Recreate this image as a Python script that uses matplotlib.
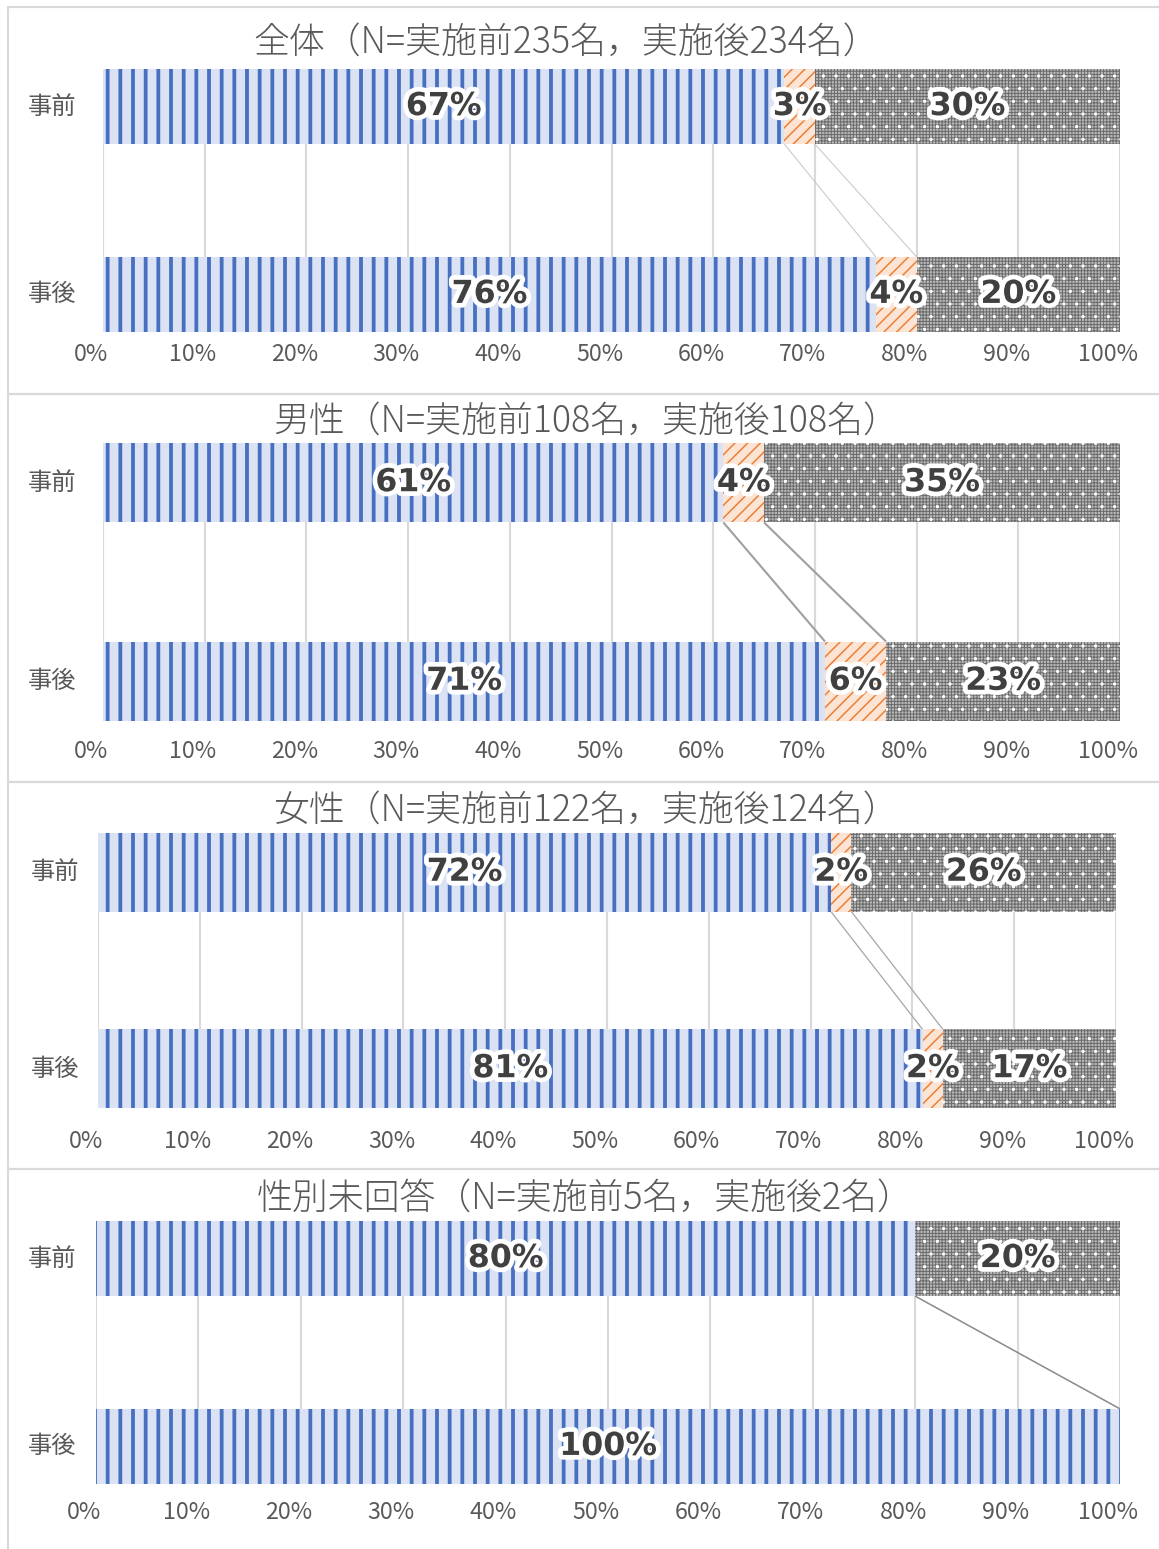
import matplotlib
matplotlib.use("Agg")
import matplotlib.pyplot as plt
import matplotlib.patheffects as pe
from matplotlib.patches import Rectangle
from matplotlib.transforms import ScaledTranslation, blended_transform_factory
import numpy as np

plt.rcParams["font.family"] = ["Noto Sans CJK JP", "DejaVu Sans"]
plt.rcParams["hatch.linewidth"] = 1.4

# ---- data -------------------------------------------------------------
titles = [
    "全体（N=実施前235名，実施後234名）",
    "男性（N=実施前108名，実施後108名）",
    "女性（N=実施前122名，実施後124名）",
    "性別未回答（N=実施前5名，実施後2名）",
]
periods = ["事前", "事後"]
# shares (%) per group: [事前, 事後]
share_blue = [[67, 76], [61, 71], [72, 81], [80, 100]]
share_orange = [[3, 4], [4, 6], [2, 2], [0, 0]]
share_gray = [[30, 20], [35, 23], [26, 17], [20, 0]]
tick_values = list(range(0, 101, 10))
tick_labels = [f"{v}%" for v in tick_values]

# ---- layout (pixels) --------------------------------------------------
W, H, DPI = 1159, 1549, 152
axes_px = [  # left, right, top, bottom
    (103, 1120, 69, 332),
    (103, 1120, 443, 721),
    (98, 1116, 833, 1108),
    (96, 1120, 1221, 1484),
]
tick_pad = [5.0, 9.0, 10.4, 8.0]
title_px = [(566, 42), (586, 421), (586, 810), (585, 1198)]
ylabel_x = [52, 52, 55, 52]
panel_px = [(7, 394), (394, 782), (782, 1169), (1169, 1560)]
connector_style = [
    ("#c9c9c9", 0.5),
    ("#a0a0a0", 1.0),
    ("#a6a6a6", 0.6),
    ("#8f8f8f", 0.6),
]

blue_face, blue_line = "#dae2f3", "#4870c0"
orange_face, orange_line = "#fbe4d4", "#ed7d31"
gray_face, gray_line = "#b8b8b8", "#6a6a6a"
text_gray = "#595959"

fig = plt.figure(figsize=(W / DPI, H / DPI), dpi=DPI)

# panel frames
for top, bottom in panel_px:
    fig.patches.append(
        Rectangle((8 / W, 1 - bottom / H), 1.2, (bottom - top) / H,
                  transform=fig.transFigure, facecolor="none",
                  edgecolor="#d9d9d9", linewidth=1.0, zorder=0)
    )


def set_hlw(patch, lw):
    if hasattr(patch, "set_hatch_linewidth"):
        patch.set_hatch_linewidth(lw)


label_fx = [pe.withStroke(linewidth=4.5, foreground="white")]

for i in range(4):
    l, r, t, b = axes_px[i]
    ax = fig.add_axes([l / W, 1 - b / H, (r - l) / W, (b - t) / H])
    ypos = np.array([1.0, 0.0])
    height = 0.4
    left = np.zeros(2)

    segs = [
        (np.array(share_blue[i], float), blue_face, blue_line, "||", 1.8),
        (np.array(share_orange[i], float), orange_face, orange_line, "////", 0.7),
        (np.array(share_gray[i], float), gray_face, gray_line, "++++++++", 0.45),
    ]
    bounds = []
    for k, (vals, face, line, hatch, hlw) in enumerate(segs):
        bars = ax.barh(ypos, vals, left=left, height=height, color=face,
                       edgecolor=line, linewidth=0, hatch=hatch, zorder=2)
        for p in bars:
            set_hlw(p, hlw)
        if k == 2:
            dots = ax.barh(ypos, vals, left=left, height=height,
                           facecolor="none", edgecolor="white", linewidth=0,
                           hatch="..", zorder=3)
            for p in dots:
                set_hlw(p, 0.4)
        for j in range(2):
            if vals[j] > 0:
                ax.text(left[j] + vals[j] / 2, ypos[j], f"{vals[j]:.0f}%",
                        ha="center", va="center", fontsize=15,
                        fontweight="bold", family="DejaVu Sans",
                        color="#404040", path_effects=label_fx, zorder=5)
        left = left + vals
        if k < 2:
            bounds.append(left.copy())

    # series lines between the two bars
    col, lw = connector_style[i]
    for bd in bounds:
        ax.plot([bd[0], bd[1]], [1 - height / 2, height / 2], color=col,
                lw=lw, zorder=1.5, solid_capstyle="butt")

    ax.set_xlim(0, 100)
    ax.set_ylim(-0.2, 1.2)
    ax.set_xticks(tick_values)
    ax.set_xticklabels(tick_labels, fontsize=11, color=text_gray)
    ax.tick_params(axis="x", length=0, pad=tick_pad[i])
    ax.set_yticks([])
    for s in ax.spines.values():
        s.set_visible(False)
    ax.grid(axis="x", color="#d9d9d9", linewidth=1.0, zorder=0)
    ax.set_axisbelow(True)
    ax.patch.set_alpha(0)
    shift = ScaledTranslation(-12 / DPI, 0, fig.dpi_scale_trans)
    for lab in ax.get_xticklabels():
        lab.set_transform(lab.get_transform() + shift)

    tr = blended_transform_factory(fig.transFigure, ax.transData)
    for j, name in enumerate(periods):
        ax.text(ylabel_x[i] / W, ypos[j], name, transform=tr, ha="center",
                va="center", fontsize=11.5, color=text_gray)

    cx, cy = title_px[i]
    fig.text(cx / W, 1 - cy / H, titles[i], ha="center", va="center",
             fontsize=17, fontweight="light", color=text_gray)

fig.savefig("out.png", dpi=DPI)
